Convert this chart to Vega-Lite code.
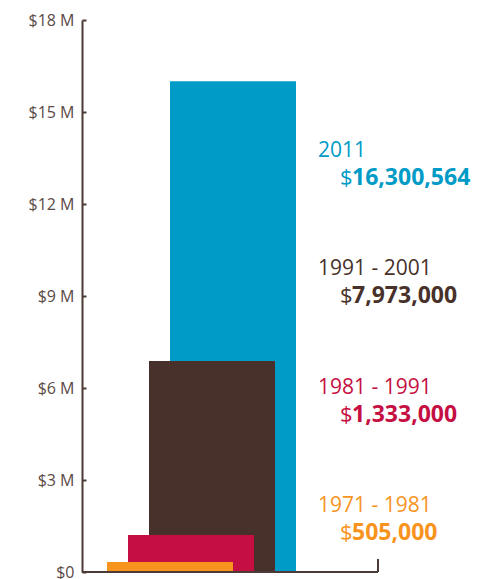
{
  "$schema": "https://vega.github.io/schema/vega-lite/v6.json",
  "autosize": {"type": "none"},
  "padding": {"left": 82, "top": 20, "right": 110, "bottom": 7},
  "width": 296,
  "height": 552,
  "background": "white",
  "config": {
    "view": {"stroke": null},
    "font": "Open Sans"
  },
  "data": {
    "values": [
      {"period": "2011", "amount": 16000000, "label": "16,300,564"},
      {"period": "1991 - 2001", "amount": 6880000, "label": "7,973,000"},
      {"period": "1981 - 1991", "amount": 1210000, "label": "1,333,000"},
      {"period": "1971 - 1981", "amount": 330000, "label": "505,000"}
    ]
  },
  "layer": [
    {
      "layer": [
        {
          "mark": {"type": "bar", "width": {"band": 6}},
          "encoding": {
            "x": {
              "field": "period",
              "type": "nominal",
              "sort": ["1971 - 1981", "1981 - 1991", "1991 - 2001", "2011"],
              "scale": {"type": "band", "paddingInner": 0, "paddingOuter": 0, "range": [77.5, 161.5]},
              "axis": null
            },
            "y": {
              "field": "amount",
              "type": "quantitative",
              "scale": {"domain": [0, 18000000], "nice": false},
              "axis": {
                "title": null,
                "grid": false,
                "values": [0, 3000000, 6000000, 9000000, 12000000, 15000000, 18000000],
                "labelExpr": "datum.value == 0 ? '$0' : '$' + (datum.value / 1000000) + ' M'",
                "labelFont": "Open Sans",
                "labelFontSize": 16,
                "labelColor": "#5a4a46",
                "tickSize": -4,
                "tickWidth": 2,
                "tickColor": "#4b3a35",
                "labelPadding": 12,
                "domainColor": "#4b3a35",
                "domainWidth": 2
              }
            },
            "color": {
              "field": "period",
              "type": "nominal",
              "scale": {
                "domain": ["2011", "1991 - 2001", "1981 - 1991", "1971 - 1981"],
                "range": ["#009bc6", "#48312a", "#c50f43", "#f7941e"]
              },
              "legend": null
            }
          }
        },
        {
          "data": {"values": [{}]},
          "mark": {"type": "rule", "color": "#4b3a35", "strokeWidth": 2},
          "encoding": {
            "y": {"datum": 0, "type": "quantitative"}
          }
        },
        {
          "data": {"values": [{}]},
          "mark": {"type": "rule", "color": "#4b3a35", "strokeWidth": 2},
          "encoding": {
            "x": {"value": "width"},
            "y": {"datum": 0, "type": "quantitative"},
            "y2": {"datum": 420000}
          }
        }
      ]
    },
    {
      "encoding": {
        "y": {
          "field": "period",
          "type": "nominal",
          "scale": {"type": "point", "domain": ["2011", "1991 - 2001", "1981 - 1991", "1971 - 1981"], "padding": 0.833, "align": 0.695},
          "axis": null
        },
        "color": {"field": "period", "type": "nominal", "legend": null}
      },
      "layer": [
        {
          "mark": {"type": "text", "align": "left", "baseline": "alphabetic", "fontSize": 21, "dx": 88},
          "encoding": {"text": {"field": "period"}}
        },
        {
          "mark": {"type": "text", "align": "left", "baseline": "alphabetic", "fontSize": 22, "dx": 110, "dy": 28},
          "encoding": {"text": {"value": "$"}}
        },
        {
          "mark": {"type": "text", "align": "left", "baseline": "alphabetic", "fontSize": 23, "fontWeight": "bold", "dx": 122, "dy": 28},
          "encoding": {"text": {"field": "label"}}
        }
      ]
    }
  ],
  "resolve": {"scale": {"y": "independent"}}
}
